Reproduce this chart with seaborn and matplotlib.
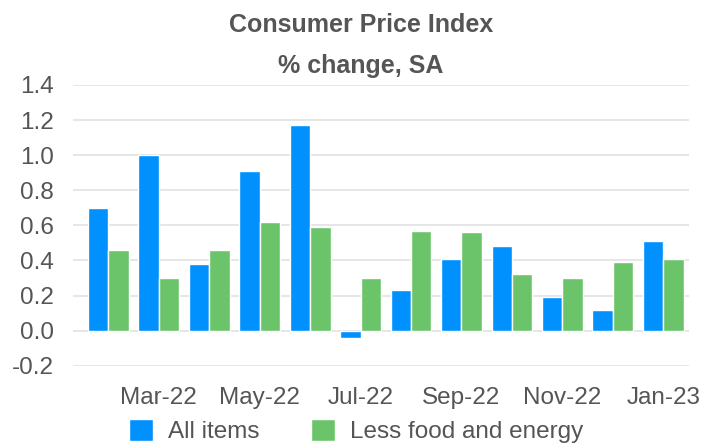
import pandas as pd
import seaborn as sns
import matplotlib.pyplot as plt
from matplotlib.ticker import FormatStrFormatter

months = ['Feb-22', 'Mar-22', 'Apr-22', 'May-22', 'Jun-22', 'Jul-22',
          'Aug-22', 'Sep-22', 'Oct-22', 'Nov-22', 'Dec-22', 'Jan-23']
all_items = [0.70, 1.00, 0.38, 0.91, 1.17, -0.04, 0.23, 0.41, 0.48, 0.19, 0.12, 0.51]
less_food_energy = [0.46, 0.30, 0.46, 0.62, 0.59, 0.30, 0.57, 0.56, 0.32, 0.30, 0.39, 0.41]
series_names = ['All items', 'Less food and energy']

df = pd.DataFrame({
    'month': months * 2,
    'series': [series_names[0]] * len(months) + [series_names[1]] * len(months),
    'value': all_items + less_food_energy,
})

sns.set_style('white')
plt.rcParams['font.family'] = ['Liberation Sans', 'DejaVu Sans']
text_col = '#555555'
fs = 17.5

fig = plt.figure(figsize=(7.03, 4.47), dpi=100)
ax = fig.add_axes([0.1038, 0.1819, 0.876, 0.628])

sns.barplot(data=df, x='month', y='value', hue='series', order=months,
            hue_order=series_names, palette=['#0091ff', '#6cc46a'],
            saturation=1, width=0.81, ax=ax, legend=True)

ax.set_ylim(-0.2, 1.4)
ax.set_yticks([-0.2, 0.0, 0.2, 0.4, 0.6, 0.8, 1.0, 1.2, 1.4])
ax.yaxis.set_major_formatter(FormatStrFormatter('%.1f'))
ax.set_xlim(-0.70, len(months) - 0.495)
ax.set_xticks(range(len(months)))
ax.set_xticklabels([m if i % 2 == 1 else '' for i, m in enumerate(months)])
ax.grid(axis='y', color='#e4e4e4', lw=1.3)
ax.set_axisbelow(True)
ax.tick_params(axis='both', length=0, labelsize=fs, colors=text_col)
ax.tick_params(axis='y', pad=14)
ax.tick_params(axis='x', pad=15)
ax.set_xlabel('')
ax.set_ylabel('')
sns.despine(ax=ax, left=True, bottom=True)

handles, labels = ax.get_legend_handles_labels()
ax.legend_.remove()
fig.legend(handles, labels, loc='center left', bbox_to_anchor=(129 / 703, 1 - 431 / 447),
           ncol=2, frameon=False, fontsize=fs, handlelength=1.0, handleheight=1.0,
           columnspacing=2.1, handletextpad=0.62, borderpad=0, borderaxespad=0,
           labelcolor=text_col)

fig.text(0.5135, 1 - 25 / 447, 'Consumer Price Index', ha='center', va='center',
         fontsize=18, fontweight='bold', color=text_col)
fig.text(0.5135, 1 - 66 / 447, '% change, SA', ha='center', va='center',
         fontsize=18, fontweight='bold', color=text_col)

fig.savefig('out.png', dpi=100)
